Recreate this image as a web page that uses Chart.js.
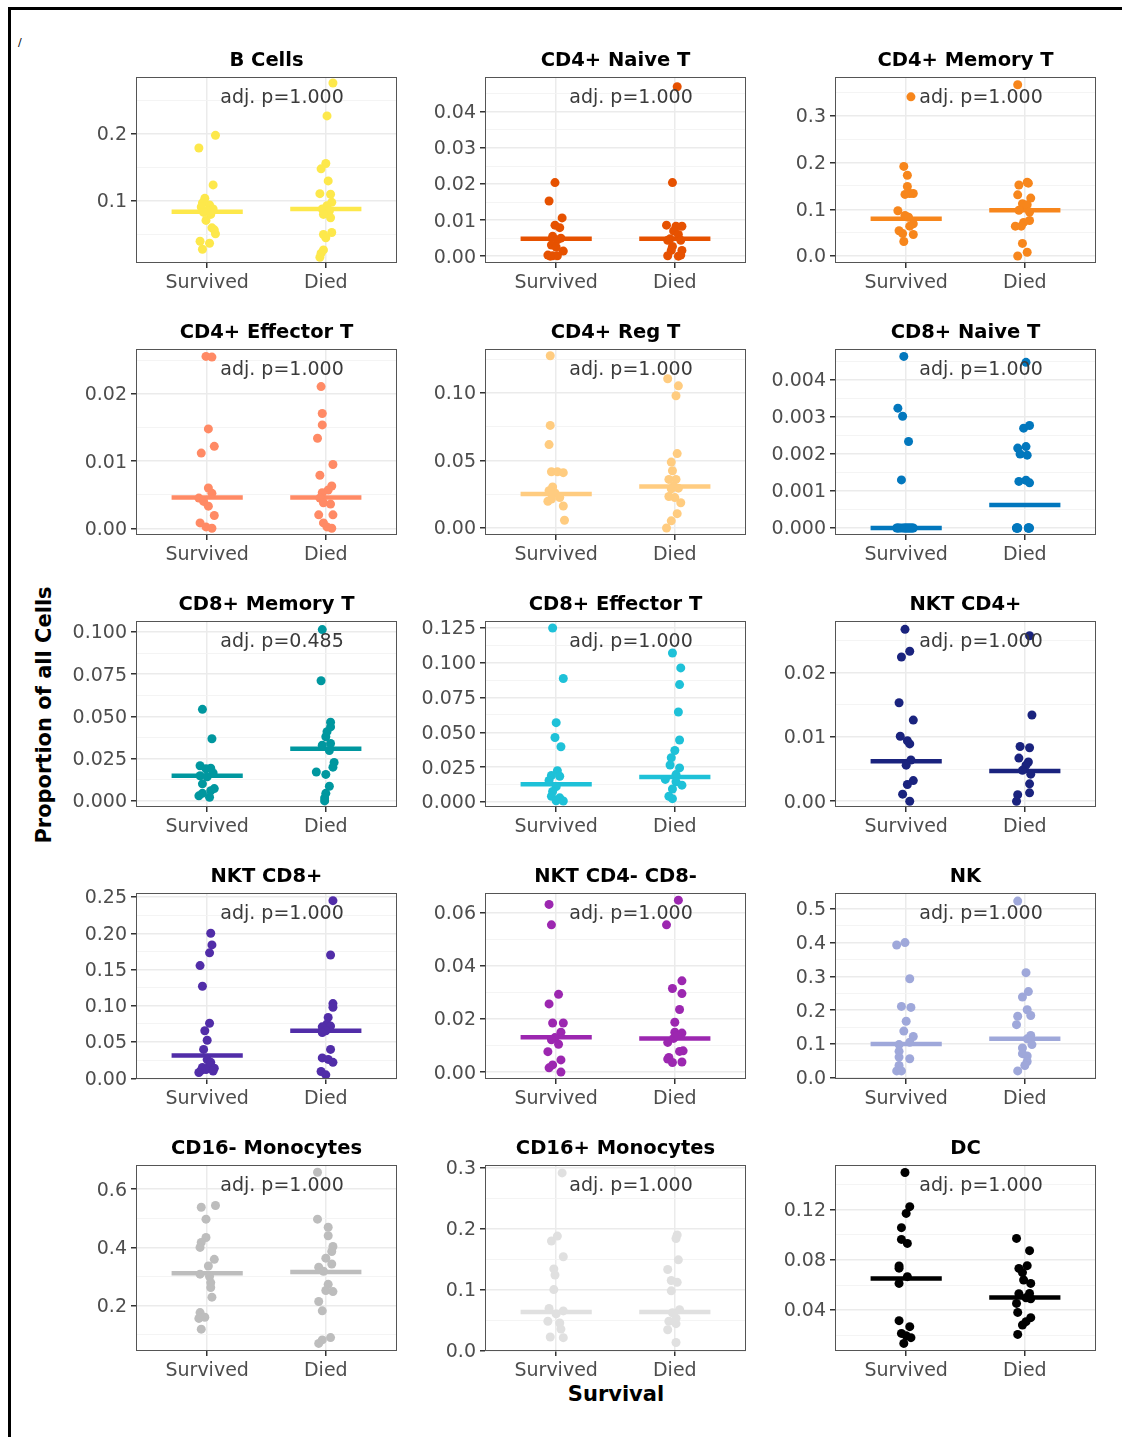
<!DOCTYPE html>
<html>
<head>
<meta charset="utf-8">
<script src="https://cdn.jsdelivr.net/npm/chart.js@4.4.1/dist/chart.umd.min.js"></script>
<style>
  body { margin: 0; background: #fff; }
  #fig { position: relative; width: 1122px; height: 1437px; overflow: hidden; background: #fff; font-family: "DejaVu Sans", sans-serif; }
  #fig canvas { position: absolute; }
  .frameTop { position: absolute; left: 8px; top: 7px; width: 1114px; height: 3px; background: #000; }
  .frameLeft { position: absolute; left: 8px; top: 7px; width: 3px; height: 1430px; background: #000; }
  #ylab { position: absolute; left: 44px; top: 715px; transform: translate(-50%, -50%) rotate(-90deg); font: bold 21px "DejaVu Sans"; white-space: nowrap; color: #000; }
  #xlab { position: absolute; left: 616px; top: 1394px; transform: translate(-50%, -50%); font: bold 21px "DejaVu Sans"; color: #000; }
  #mark { position: absolute; left: 18px; top: 36px; font: 11px "DejaVu Sans"; color: #000; }
</style>
</head>
<body>
<div id="fig">
  <div class="frameTop"></div>
  <div class="frameLeft"></div>
  <div id="mark">/</div>
  <div id="ylab">Proportion of all Cells</div>
  <div id="xlab">Survival</div>
</div>
<script>
// [value, horizontal jitter]
const bCellsSurvived = [[0.198,0.07],[0.179,-0.07],[0.124,0.05],[0.104,-0.02],[0.097,-0.04],[0.094,0.02],[0.091,-0.05],[0.088,0.05],[0.085,0.0],[0.083,-0.03],[0.080,0.03],[0.071,-0.01],[0.060,0.04],[0.057,0.06],[0.051,0.07],[0.040,-0.06],[0.037,0.02],[0.028,-0.04]];
const bCellsDied = [[0.276,0.06],[0.227,0.01],[0.156,0.0],[0.148,-0.04],[0.130,0.02],[0.111,-0.05],[0.110,0.04],[0.098,0.05],[0.093,0.01],[0.088,-0.03],[0.085,0.03],[0.080,-0.02],[0.075,0.04],[0.053,0.05],[0.050,-0.02],[0.045,0.0],[0.027,-0.02],[0.022,-0.04],[0.016,-0.05]];
const cd4NaiveSurvived = [[0.0204,-0.01],[0.0153,-0.06],[0.0106,0.05],[0.0086,-0.01],[0.0079,0.03],[0.0055,-0.03],[0.005,0.04],[0.0045,0.01],[0.0031,-0.04],[0.0025,0.0],[0.0014,0.06],[0.0003,-0.07],[0.0001,-0.03],[0.0001,0.01],[0.0,-0.05]];
const cd4NaiveDied = [[0.047,0.02],[0.0204,-0.02],[0.0086,-0.07],[0.0083,0.01],[0.0083,0.06],[0.007,-0.01],[0.006,0.03],[0.0048,-0.04],[0.0044,0.05],[0.0044,-0.06],[0.0027,-0.02],[0.0016,0.06],[0.0016,-0.03],[0.0001,-0.06],[0.0,0.03],[0.0003,0.05]];
const cd4MemorySurvived = [[0.341,0.04],[0.192,-0.02],[0.173,0.01],[0.149,0.01],[0.132,-0.01],[0.134,0.03],[0.134,0.06],[0.097,-0.07],[0.087,-0.01],[0.083,0.02],[0.069,0.06],[0.064,0.03],[0.054,-0.06],[0.048,-0.03],[0.046,0.06],[0.031,-0.02]];
const cd4MemoryDied = [[0.367,-0.06],[0.158,0.02],[0.152,-0.05],[0.156,0.03],[0.131,-0.06],[0.124,0.05],[0.112,-0.02],[0.110,0.02],[0.098,-0.05],[0.094,0.04],[0.076,0.04],[0.072,-0.01],[0.064,-0.08],[0.064,-0.03],[0.027,-0.02],[0.008,0.02],[0.0,-0.06]];
const cd4EffectorSurvived = [[0.0256,-0.01],[0.0255,0.04],[0.0148,0.01],[0.0122,0.06],[0.0112,-0.05],[0.006,0.01],[0.0052,0.04],[0.0045,-0.07],[0.004,-0.03],[0.0033,0.01],[0.0019,0.06],[0.0008,-0.06],[0.0002,-0.01],[0.0,0.04]];
const cd4EffectorDied = [[0.0211,-0.04],[0.0171,-0.03],[0.0154,-0.03],[0.0134,-0.07],[0.0095,0.06],[0.0079,-0.05],[0.0063,0.05],[0.0057,0.02],[0.0053,-0.03],[0.0045,-0.05],[0.0038,-0.02],[0.0036,0.04],[0.002,-0.06],[0.002,0.06],[0.0008,-0.02],[0.0002,0.01],[0.0,0.05]];
const cd4RegSurvived = [[0.1276,-0.05],[0.076,-0.05],[0.0618,-0.06],[0.0417,-0.04],[0.0417,0.01],[0.041,0.06],[0.0304,-0.03],[0.0276,-0.06],[0.026,-0.01],[0.0225,0.03],[0.0198,-0.07],[0.0215,-0.04],[0.0163,0.06],[0.0057,0.07]];
const cd4RegDied = [[0.1106,-0.06],[0.1053,0.03],[0.098,0.01],[0.0551,0.02],[0.0488,-0.03],[0.0424,-0.02],[0.036,-0.05],[0.036,0.01],[0.031,-0.01],[0.029,-0.03],[0.0295,0.03],[0.0233,-0.05],[0.0225,0.0],[0.0187,0.05],[0.0106,0.02],[0.0053,-0.03],[0.0,-0.07]];
const cd8NaiveSurvived = [[0.00464,-0.02],[0.00324,-0.07],[0.00302,-0.03],[0.00234,0.02],[0.0013,-0.04],[0,-0.08],[0,-0.06],[0,-0.04],[0,-0.02],[0,0],[0,0.02],[0,0.04],[0,0.06],[0,-0.07],[0,0.05],[0,0.01],[0,-0.01],[0,0.03]];
const cd8NaiveDied = [[0.00448,0.01],[0.0027,-0.01],[0.00277,0.04],[0.00216,-0.06],[0.0022,0.01],[0.002,-0.04],[0.00197,0.02],[0.00126,-0.05],[0.00129,0.01],[0.00122,0.04],[0,-0.07],[0,-0.06],[0,-0.065],[0,-0.07],[0,-0.06],[0,0.03],[0,0.035],[0,0.03],[0,0.04],[0,0.03]];
const cd8MemorySurvived = [[0.0542,-0.04],[0.0368,0.04],[0.0208,-0.06],[0.0194,0.03],[0.019,-0.01],[0.0165,0.05],[0.0149,-0.06],[0.0143,0.0],[0.0101,-0.04],[0.0073,0.06],[0.006,0.03],[0.0045,-0.04],[0.003,-0.07],[0.0022,0.02]];
const cd8MemoryDied = [[0.1014,-0.03],[0.0711,-0.04],[0.0466,0.04],[0.0438,0.04],[0.041,0.01],[0.038,0.0],[0.034,0.04],[0.033,-0.03],[0.0298,0.03],[0.0228,0.07],[0.02,0.06],[0.0171,-0.08],[0.0157,0.0],[0.0087,0.03],[0.0045,0.0],[0.0017,-0.01],[0.0,-0.01]];
const cd8EffectorSurvived = [[0.125,-0.03],[0.0887,0.06],[0.057,0.0],[0.0463,-0.01],[0.0397,0.04],[0.0224,0.01],[0.019,-0.04],[0.0185,0.03],[0.0155,-0.06],[0.011,0.0],[0.0076,-0.03],[0.0041,-0.04],[0.003,0.03],[0.0007,0.06],[0.0008,0.0]];
const cd8EffectorDied = [[0.107,-0.02],[0.0963,0.05],[0.0843,0.04],[0.0646,0.03],[0.0445,0.04],[0.037,0.0],[0.0318,-0.03],[0.0266,-0.04],[0.0245,0.04],[0.0197,0.01],[0.0162,-0.08],[0.0145,0.01],[0.0121,0.06],[0.0093,-0.02],[0.0041,-0.05],[0.0024,-0.02]];
const nktCd4Survived = [[0.0267,-0.01],[0.0233,0.03],[0.0224,-0.04],[0.0153,-0.06],[0.0126,0.06],[0.0101,-0.05],[0.0094,0.01],[0.0089,0.03],[0.0064,0.04],[0.0056,0.0],[0.0032,0.06],[0.0026,0.01],[0.0011,-0.03],[0.0,0.03]];
const nktCd4Died = [[0.0257,0.04],[0.0134,0.06],[0.0085,-0.04],[0.0083,0.04],[0.0067,-0.05],[0.0061,0.03],[0.0056,0.01],[0.0048,-0.02],[0.0042,0.05],[0.0027,0.04],[0.0013,0.04],[0.001,-0.06],[0.0,-0.07]];
const nktCd8Survived = [[0.2,0.03],[0.184,0.04],[0.173,0.02],[0.1555,-0.06],[0.127,-0.04],[0.0759,0.02],[0.0656,-0.02],[0.0525,0.0],[0.0398,-0.03],[0.0258,0.0],[0.022,0.03],[0.018,0.02],[0.015,-0.04],[0.014,0.06],[0.012,-0.01],[0.011,-0.05],[0.01,0.05],[0.008,-0.07]];
const nktCd8Died = [[0.245,0.06],[0.17,0.04],[0.103,0.06],[0.098,0.06],[0.084,0.02],[0.075,0.01],[0.071,-0.03],[0.072,0.04],[0.0656,0.0],[0.063,-0.03],[0.0398,0.04],[0.0281,-0.03],[0.026,0.02],[0.022,0.06],[0.0094,-0.04],[0.0047,0.0]];
const nktDnSurvived = [[0.0632,-0.06],[0.0555,-0.04],[0.0293,0.02],[0.0257,-0.06],[0.0185,-0.03],[0.0185,0.06],[0.015,0.04],[0.013,-0.01],[0.0122,-0.04],[0.0105,0.02],[0.0077,-0.07],[0.0046,0.04],[0.0027,-0.03],[0.0016,-0.06],[0.0,0.04]];
const nktDnDied = [[0.0648,0.03],[0.0555,-0.07],[0.0344,0.06],[0.0315,-0.02],[0.0296,0.06],[0.0236,0.04],[0.0188,0.0],[0.015,0.0],[0.0147,0.06],[0.0127,-0.01],[0.0137,0.02],[0.0112,-0.06],[0.008,0.07],[0.0078,0.04],[0.0055,-0.05],[0.0049,-0.06],[0.0036,-0.02],[0.0038,0.06]];
const nkSurvived = [[0.393,-0.08],[0.40,-0.01],[0.293,0.03],[0.211,-0.04],[0.208,0.04],[0.167,0.0],[0.138,-0.02],[0.122,0.06],[0.105,0.03],[0.098,-0.06],[0.078,-0.06],[0.061,-0.06],[0.056,0.03],[0.036,-0.06],[0.02,-0.08],[0.02,-0.04]];
const nkDied = [[0.523,-0.06],[0.311,0.01],[0.255,0.03],[0.239,-0.02],[0.201,0.02],[0.184,0.05],[0.182,-0.06],[0.157,-0.07],[0.125,0.05],[0.115,0.02],[0.098,0.06],[0.088,-0.02],[0.071,-0.02],[0.064,0.02],[0.048,0.02],[0.036,0.0],[0.02,-0.06]];
const cd16negSurvived = [[0.538,-0.05],[0.544,0.07],[0.497,-0.01],[0.434,-0.01],[0.417,-0.05],[0.40,-0.06],[0.359,0.06],[0.336,0.01],[0.308,-0.06],[0.30,0.02],[0.279,0.03],[0.262,0.03],[0.229,0.04],[0.176,-0.06],[0.16,-0.02],[0.156,-0.07],[0.119,-0.05]];
const cd16negDied = [[0.658,-0.07],[0.497,-0.07],[0.469,0.02],[0.44,0.02],[0.403,0.06],[0.386,0.05],[0.363,0.0],[0.343,0.05],[0.332,-0.06],[0.318,-0.02],[0.273,0.02],[0.248,0.06],[0.252,0.0],[0.214,-0.06],[0.182,-0.03],[0.09,0.04],[0.082,-0.03],[0.07,-0.06]];
const cd16posSurvived = [[0.292,0.05],[0.188,0.01],[0.18,-0.04],[0.154,0.06],[0.134,-0.02],[0.124,-0.01],[0.1,-0.02],[0.069,-0.06],[0.065,0.06],[0.06,0.0],[0.048,-0.07],[0.045,0.03],[0.035,0.04],[0.022,-0.05],[0.021,0.06]];
const cd16posDied = [[0.19,0.02],[0.184,0.01],[0.149,0.03],[0.133,-0.06],[0.115,-0.03],[0.112,0.02],[0.098,-0.03],[0.067,0.04],[0.062,-0.02],[0.053,0.01],[0.048,-0.05],[0.044,0.01],[0.034,-0.06],[0.013,0.01]];
const dcSurvived = [[0.150,-0.01],[0.1227,0.03],[0.1173,0.0],[0.1059,-0.04],[0.0965,-0.04],[0.0933,0.01],[0.0752,-0.06],[0.0735,-0.06],[0.0667,0.01],[0.0613,-0.06],[0.0315,-0.06],[0.0267,0.03],[0.0213,-0.04],[0.0195,0.0],[0.0179,0.04],[0.0133,-0.02]];
const dcDied = [[0.0973,-0.07],[0.0875,0.04],[0.0755,0.02],[0.0733,-0.05],[0.07,-0.02],[0.064,-0.01],[0.0613,0.05],[0.0533,0.04],[0.053,-0.05],[0.0498,0.01],[0.049,0.05],[0.0453,-0.07],[0.0381,-0.06],[0.0339,0.05],[0.0307,0.01],[0.028,-0.02],[0.0205,-0.06]];

const groups = ["Survived", "Died"];
const titles = ["B Cells", "CD4+ Naive T", "CD4+ Memory T", "CD4+ Effector T", "CD4+ Reg T", "CD8+ Naive T",
  "CD8+ Memory T", "CD8+ Effector T", "NKT CD4+", "NKT CD8+", "NKT CD4- CD8-", "NK",
  "CD16- Monocytes", "CD16+ Monocytes", "DC"];
const colors = ["#FDE84B", "#E65100", "#F7861C", "#FF8A65", "#FFCC80", "#0277BD",
  "#00979F", "#1EC1D8", "#1A237E", "#512DA8", "#9C27B0", "#9FA8DA",
  "#BDBDBD", "#E0E0E0", "#000000"];
const pValues = ["1.000", "1.000", "1.000", "1.000", "1.000", "1.000", "0.485", "1.000", "1.000",
  "1.000", "1.000", "1.000", "1.000", "1.000", "1.000"];
const survivedSets = [bCellsSurvived, cd4NaiveSurvived, cd4MemorySurvived, cd4EffectorSurvived, cd4RegSurvived, cd8NaiveSurvived,
  cd8MemorySurvived, cd8EffectorSurvived, nktCd4Survived, nktCd8Survived, nktDnSurvived, nkSurvived,
  cd16negSurvived, cd16posSurvived, dcSurvived];
const diedSets = [bCellsDied, cd4NaiveDied, cd4MemoryDied, cd4EffectorDied, cd4RegDied, cd8NaiveDied,
  cd8MemoryDied, cd8EffectorDied, nktCd4Died, nktCd8Died, nktDnDied, nkDied,
  cd16negDied, cd16posDied, dcDied];
const medianSurvived = [0.084, 0.0048, 0.080, 0.0046, 0.0251, 0.0, 0.0149, 0.0128, 0.0062, 0.0314, 0.0131, 0.0996, 0.311, 0.063, 0.0653];
const medianDied = [0.088, 0.0048, 0.098, 0.0046, 0.0307, 0.00062, 0.0309, 0.018, 0.0047, 0.0656, 0.0127, 0.115, 0.315, 0.063, 0.0501];
const yMin = [0.0075, -0.0019, -0.015, -0.001, -0.0052, -0.00019, -0.0036, -0.0036, -0.0009, -0.001, -0.0026, -0.004, 0.044, -0.001, 0.0072];
const yMax = [0.285, 0.0497, 0.3835, 0.0267, 0.1326, 0.00484, 0.1065, 0.130, 0.028, 0.2556, 0.0675, 0.547, 0.683, 0.305, 0.156];
const yTickLabels = [
  ["0.1", "0.2"],
  ["0.00", "0.01", "0.02", "0.03", "0.04"],
  ["0.0", "0.1", "0.2", "0.3"],
  ["0.00", "0.01", "0.02"],
  ["0.00", "0.05", "0.10"],
  ["0.000", "0.001", "0.002", "0.003", "0.004"],
  ["0.000", "0.025", "0.050", "0.075", "0.100"],
  ["0.000", "0.025", "0.050", "0.075", "0.100", "0.125"],
  ["0.00", "0.01", "0.02"],
  ["0.00", "0.05", "0.10", "0.15", "0.20", "0.25"],
  ["0.00", "0.02", "0.04", "0.06"],
  ["0.0", "0.1", "0.2", "0.3", "0.4", "0.5"],
  ["0.2", "0.4", "0.6"],
  ["0.0", "0.1", "0.2", "0.3"],
  ["0.04", "0.08", "0.12"]
];

Chart.defaults.font.family = "DejaVu Sans";

const plotLeft = [136, 485, 835];
const plotTop = [77, 349, 621, 893, 1165];
const padTop = 40, axisW = 90, axisH = 40, plotW = 261, plotH = 186;
const fig = document.getElementById("fig");

const panelDeco = {
  id: "panelDeco",
  afterDatasetsDraw(chart, args, opts) {
    const { ctx, chartArea: a } = chart;
    ctx.save();
    ctx.fillStyle = "#3a3a3a";
    ctx.font = "19px 'DejaVu Sans'";
    ctx.textAlign = "center";
    ctx.textBaseline = "middle";
    ctx.fillText("adj. p=" + opts.p, a.left + 146, a.top + 21);
    ctx.strokeStyle = "#555";
    ctx.lineWidth = 1;
    ctx.strokeRect(a.left + 0.5, a.top + 0.5, a.width - 1, a.height - 1);
    ctx.fillStyle = "#000";
    ctx.font = "bold 19.5px 'DejaVu Sans'";
    ctx.fillText(opts.title, (a.left + a.right) / 2, a.top - 16.5);
    ctx.restore();
  }
};

function toPoints(set, cat) {
  return set.map(([v, j]) => ({ x: cat + j, y: v }));
}

titles.forEach((title, i) => {
  const col = i % 3, row = Math.floor(i / 3);
  const canvas = document.createElement("canvas");
  canvas.width = axisW + plotW + 10;
  canvas.height = padTop + plotH + axisH;
  canvas.style.left = (plotLeft[col] - axisW) + "px";
  canvas.style.top = (plotTop[row] - padTop) + "px";
  fig.appendChild(canvas);

  const major = yTickLabels[i].map(Number);
  const step = major[1] - major[0];
  const minor = [];
  for (let m = major[0] - step / 2; m <= yMax[i]; m += step) {
    if (m >= yMin[i]) minor.push(m);
  }
  const isMajor = v => major.some(t => Math.abs(t - v) < step * 1e-3);
  const color = colors[i];

  new Chart(canvas.getContext("2d"), {
    type: "scatter",
    data: {
      datasets: [
        { data: toPoints(survivedSets[i], 1), backgroundColor: color, borderWidth: 0, pointRadius: 4.5 },
        { data: toPoints(diedSets[i], 2), backgroundColor: color, borderWidth: 0, pointRadius: 4.5 },
        { type: "line", data: [{ x: 0.7, y: medianSurvived[i] }, { x: 1.3, y: medianSurvived[i] }], borderColor: color, borderWidth: 4.5, pointRadius: 0, borderCapStyle: "butt" },
        { type: "line", data: [{ x: 1.7, y: medianDied[i] }, { x: 2.3, y: medianDied[i] }], borderColor: color, borderWidth: 4.5, pointRadius: 0, borderCapStyle: "butt" }
      ]
    },
    options: {
      responsive: false,
      animation: false,
      devicePixelRatio: 1,
      layout: { padding: { top: padTop, right: 10, left: 0, bottom: 0 } },
      plugins: {
        legend: { display: false },
        tooltip: { enabled: false },
        panelDeco: { title: title, p: pValues[i] }
      },
      scales: {
        x: {
          type: "linear",
          min: 0.4,
          max: 2.6,
          afterBuildTicks: s => { s.ticks = [{ value: 1 }, { value: 2 }]; },
          afterFit: s => { s.height = axisH; },
          ticks: {
            callback: v => groups[Math.round(v) - 1],
            color: "#4d4d4d",
            font: { size: 19 },
            padding: 4,
            maxRotation: 0,
            autoSkip: false
          },
          grid: { color: "#ebebeb", lineWidth: 1.5, tickColor: "#333", tickLength: 5 },
          border: { display: false }
        },
        y: {
          min: yMin[i],
          max: yMax[i],
          afterBuildTicks: s => {
            s.ticks = major.concat(minor).sort((a, b) => a - b).map(v => ({ value: v }));
          },
          afterFit: s => { s.width = axisW; },
          ticks: {
            callback: v => {
              const k = major.findIndex(t => Math.abs(t - v) < step * 1e-3);
              return k >= 0 ? yTickLabels[i][k] : "";
            },
            color: "#4d4d4d",
            font: { size: 19 },
            padding: 4,
            labelOffset: 1.5,
            autoSkip: false
          },
          grid: {
            color: c => (c.tick && isMajor(c.tick.value)) ? "#ebebeb" : "#f3f3f3",
            lineWidth: c => (c.tick && isMajor(c.tick.value)) ? 1.5 : 0.9,
            tickColor: c => (c.tick && isMajor(c.tick.value)) ? "#333" : "rgba(0,0,0,0)",
            tickLength: 5
          },
          border: { display: false }
        }
      }
    },
    plugins: [panelDeco]
  });
});
</script>
</body>
</html>
